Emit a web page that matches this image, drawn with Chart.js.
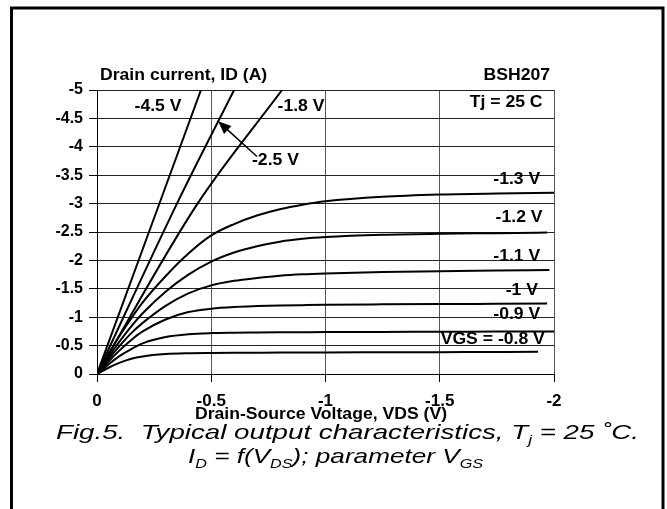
<!DOCTYPE html>
<html>
<head>
<meta charset="utf-8">
<title>BSH207 Fig.5</title>
<script src="https://cdn.jsdelivr.net/npm/chart.js@4.4.0/dist/chart.umd.min.js"></script>
<style>
    html, body { margin: 0; padding: 0; background: #fff; }
    #wrap { position: relative; width: 667px; height: 509px; }
</style>
</head>
<body>
<div id="wrap"><canvas id="fig5" width="667" height="509"></canvas></div>
<script>
// Axes ticks
const vdsTicks = [0, -0.5, -1, -1.5, -2];
const idTicks = [0, -0.5, -1, -1.5, -2, -2.5, -3, -3.5, -4, -4.5, -5];

// VDS grid shared by the saturating curves (last point is each curve's own end)
const vdsGrid = [0, -0.05, -0.1, -0.15, -0.2, -0.3, -0.4, -0.5, -0.6, -0.7, -0.8, -0.9, -1, -1.25, -1.5, -1.75];
const vgsCurved = ['-0.8', '-0.9', '-1', '-1.1', '-1.2', '-1.3'];
const vdsEnd = [-1.93, -2.0, -1.97, -1.98, -1.97, -2.0];

// Drain current (A), one list per VGS
const id_08 = [0, -0.11, -0.20, -0.27, -0.31, -0.35, -0.365, -0.37, -0.373, -0.375, -0.377, -0.378, -0.38, -0.382, -0.385, -0.388, -0.39];
const id_09 = [0, -0.17, -0.32, -0.44, -0.54, -0.65, -0.70, -0.72, -0.727, -0.731, -0.734, -0.736, -0.738, -0.741, -0.744, -0.747, -0.75];
const id_10 = [0, -0.22, -0.42, -0.60, -0.75, -0.96, -1.09, -1.15, -1.18, -1.195, -1.205, -1.212, -1.218, -1.226, -1.232, -1.236, -1.24];
const id_11 = [0, -0.26, -0.50, -0.72, -0.90, -1.20, -1.42, -1.56, -1.64, -1.69, -1.73, -1.755, -1.77, -1.795, -1.81, -1.82, -1.83];
const id_12 = [0, -0.30, -0.58, -0.84, -1.07, -1.45, -1.75, -1.98, -2.14, -2.25, -2.33, -2.38, -2.41, -2.45, -2.47, -2.48, -2.49];
const id_13 = [0, -0.35, -0.68, -0.98, -1.26, -1.72, -2.12, -2.44, -2.64, -2.79, -2.90, -2.98, -3.04, -3.12, -3.16, -3.18, -3.19];
const idCurved = [id_08, id_09, id_10, id_11, id_12, id_13];

// Nearly linear curves (high VGS) leave the plot through the top
const vds_18 = [0, -0.44, -0.81];
const id_18 = [0, -3, -5];
const vds_25 = [0, -0.35, -0.6];
const id_25 = [0, -3, -5];
const vds_45 = [0, -0.455];
const id_45 = [0, -5];

const FONT = "'Liberation Sans', Arial, Helvetica, sans-serif";
const STRETCH = 1.1; // the scanned lettering is a little wider than Arial

function toPoints(xs, ys) {
    return xs.map((x, i) => ({ x: x, y: ys[i] }));
}

function lineSet(label, points) {
    return {
        label: label,
        data: points,
        showLine: true,
        borderColor: '#000',
        borderWidth: 2,
        pointRadius: 0,
        cubicInterpolationMode: 'monotone',
        fill: false
    };
}

const datasets = vgsCurved.map((vgs, k) =>
    lineSet(vgs + ' V', toPoints(vdsGrid.concat([vdsEnd[k]]), idCurved[k]))
);
datasets.push(lineSet('-1.8 V', toPoints(vds_18, id_18)));
datasets.push(lineSet('-2.5 V', toPoints(vds_25, id_25)));
datasets.push(lineSet('-4.5 V', toPoints(vds_45, id_45)));

// Curve labels, anchored in data units [text, vds, id, align]
const curveLabels = [
    ['-4.5 V', -0.267, -4.71, 'center'],
    ['-1.8 V', -0.893, -4.71, 'center'],
    ['-2.5 V', -0.781, -3.75, 'center'],
    ['Tj = 25 C', -1.95, -4.77, 'right'],
    ['-1.3 V', -1.94, -3.43, 'right'],
    ['-1.2 V', -1.95, -2.75, 'right'],
    ['-1.1 V', -1.94, -2.06, 'right'],
    ['-1 V', -1.93, -1.46, 'right'],
    ['-0.9 V', -1.94, -1.05, 'right'],
    ['VGS = -0.8 V', -1.96, -0.60, 'right']
];
// arrow from the "-2.5 V" label to its line
const arrowFrom = [-0.70, -3.83];
const arrowTo = [-0.53, -4.45];

/**
 * Texte élargi horizontalement
 */
function wideText(ctx, text, x, y, align, sx) {
    ctx.save();
    ctx.translate(x, y);
    ctx.scale(sx, 1);
    ctx.textAlign = align;
    ctx.fillText(text, 0, 0);
    ctx.restore();
}

/**
 * Dessine une ligne italique avec indices, ajustée à une largeur donnée
 */
function drawRuns(ctx, runs, x, y, size, sx) {
    const fontFor = r => 'italic ' + (r.sub ? Math.round(size * 0.62) : size) + 'px ' + FONT;
    ctx.save();
    ctx.translate(x, y);
    ctx.scale(sx, 1);
    ctx.textAlign = 'left';
    let cx = 0;
    runs.forEach(r => {
        ctx.font = fontFor(r);
        ctx.fillText(r.t, cx, r.sub ? size * 0.22 : 0);
        cx += ctx.measureText(r.t).width;
    });
    ctx.restore();
}

function runsWidth(ctx, runs, size) {
    let w = 0;
    runs.forEach(r => {
        ctx.font = 'italic ' + (r.sub ? Math.round(size * 0.62) : size) + 'px ' + FONT;
        w += ctx.measureText(r.t).width;
    });
    return w;
}

const captionLine1 = [
    { t: 'Fig.5.  Typical output characteristics, T' },
    { t: 'j', sub: true },
    { t: ' = 25 \u02DAC.' }
];
const captionLine2 = [
    { t: 'I' },
    { t: 'D', sub: true },
    { t: ' = f(V' },
    { t: 'DS', sub: true },
    { t: '); parameter V' },
    { t: 'GS', sub: true }
];

const decorPlugin = {
    id: 'decor',
    afterDraw(chart) {
        const ctx = chart.ctx;
        const xs = chart.scales.x;
        const ys = chart.scales.y;
        ctx.save();

        // cadre extérieur
        ctx.strokeStyle = '#000';
        ctx.lineWidth = 3;
        ctx.strokeRect(11.5, 8, 651.5, 560);

        ctx.fillStyle = '#000';
        ctx.textBaseline = 'alphabetic';

        // titres autour du graphique
        ctx.font = 'bold 16px ' + FONT;
        wideText(ctx, 'Drain current, ID (A)', 100, 80, 'left', STRETCH);
        wideText(ctx, 'BSH207', 550, 80, 'right', STRETCH);
        wideText(ctx, 'Drain-Source Voltage, VDS (V)', 321, 419, 'center', STRETCH);

        // étiquettes des courbes
        ctx.textBaseline = 'middle';
        curveLabels.forEach(l => {
            wideText(ctx, l[0], xs.getPixelForValue(l[1]), ys.getPixelForValue(l[2]), l[3], STRETCH);
        });

        // flèche vers la courbe -2.5 V
        const x0 = xs.getPixelForValue(arrowFrom[0]), y0 = ys.getPixelForValue(arrowFrom[1]);
        const x1 = xs.getPixelForValue(arrowTo[0]), y1 = ys.getPixelForValue(arrowTo[1]);
        const ang = Math.atan2(y1 - y0, x1 - x0);
        const c = Math.cos(ang), s = Math.sin(ang);
        ctx.lineWidth = 1.5;
        ctx.beginPath();
        ctx.moveTo(x0, y0);
        ctx.lineTo(x1 - 8 * c, y1 - 8 * s);
        ctx.stroke();
        ctx.beginPath();
        ctx.moveTo(x1, y1);
        ctx.lineTo(x1 - 13 * c + 5.5 * s, y1 - 13 * s - 5.5 * c);
        ctx.lineTo(x1 - 13 * c - 5.5 * s, y1 - 13 * s + 5.5 * c);
        ctx.closePath();
        ctx.fill();

        // légende de la figure
        ctx.textBaseline = 'alphabetic';
        const size = 21;
        drawRuns(ctx, captionLine1, 56, 439, size, 583 / runsWidth(ctx, captionLine1, size));
        drawRuns(ctx, captionLine2, 188, 463, size, 295 / runsWidth(ctx, captionLine2, size));

        ctx.restore();
    }
};

document.addEventListener('DOMContentLoaded', function() {
    if (typeof Chart === 'undefined') {
        console.error('Chart.js is not loaded');
        return;
    }
    new Chart(document.getElementById('fig5'), {
        type: 'scatter',
        data: { datasets: datasets },
        options: {
            responsive: false,
            animation: false,
            layout: { padding: { left: 12, right: 113, top: 90, bottom: 85 } },
            plugins: {
                legend: { display: false },
                tooltip: { enabled: false }
            },
            scales: {
                x: {
                    type: 'linear',
                    min: -2,
                    max: 0,
                    reverse: true,
                    afterFit: s => { s.height = 50; },
                    afterBuildTicks: s => { s.ticks = vdsTicks.map(v => ({ value: v })); },
                    ticks: {
                        color: '#000',
                        padding: 9,
                        maxRotation: 0,
                        callback: v => String(v),
                        font: { family: FONT, size: 17, weight: 'bold' }
                    },
                    grid: { color: '#555', tickColor: '#000', tickLength: 8 },
                    border: { color: '#000', width: 1 }
                },
                y: {
                    type: 'linear',
                    min: -5,
                    max: 0,
                    reverse: true,
                    afterFit: s => { s.width = 85; },
                    afterBuildTicks: s => { s.ticks = idTicks.map(v => ({ value: v })); },
                    ticks: {
                        color: '#000',
                        padding: 6,
                        callback: v => String(v),
                        font: { family: FONT, size: 16, weight: 'bold' }
                    },
                    grid: { color: '#222', tickColor: '#000', tickLength: 8 },
                    border: { color: '#000', width: 1 }
                }
            }
        },
        plugins: [decorPlugin]
    });
});
</script>
</body>
</html>
